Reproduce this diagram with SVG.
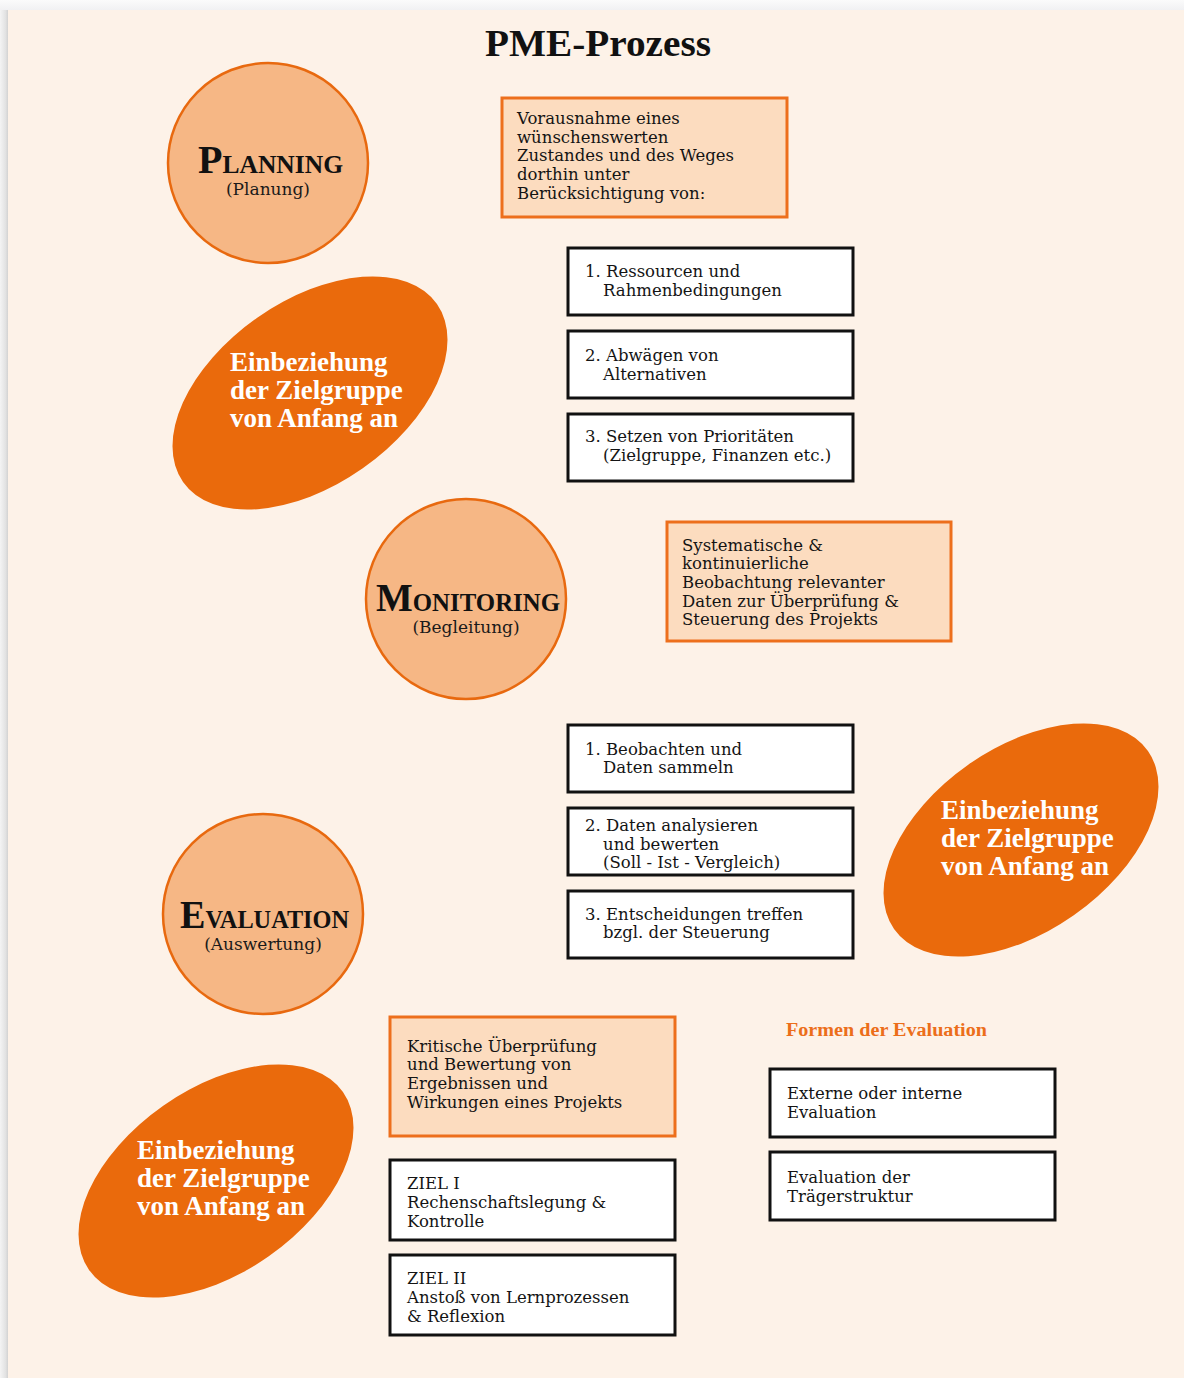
<svg xmlns="http://www.w3.org/2000/svg" width="1184" height="1378" viewBox="0 0 1184 1378">
<defs>
<linearGradient id="shL" x1="0" y1="0" x2="1" y2="0"><stop offset="0" stop-color="#f4f4f4"/><stop offset="0.7" stop-color="#e2e2e2"/><stop offset="1" stop-color="#d2d2d2"/></linearGradient>
<linearGradient id="shT" x1="0" y1="0" x2="0" y2="1"><stop offset="0" stop-color="#fbfbfb"/><stop offset="1" stop-color="#f1f1f3"/></linearGradient>
</defs>
<style>
.bg{fill:#fdf2e8}
.circ{fill:#f6b785;stroke:#e8690f;stroke-width:2.5}
.blob{fill:#ea6a0c}
.lbox{fill:#fcdcbf;stroke:#ed6f1c;stroke-width:3}
.wbox{fill:#ffffff;stroke:#111111;stroke-width:3}
.t{font-family:"DejaVu Serif","Liberation Serif",serif;font-size:16.5px;fill:#141414}
.hd{font-family:"Liberation Serif","DejaVu Serif",serif;font-weight:bold;fill:#111111}
.sub{font-family:"DejaVu Serif","Liberation Serif",serif;font-size:17px;fill:#1a1a1a;text-anchor:middle}
.bt{font-family:"Liberation Serif","DejaVu Serif",serif;font-weight:bold;font-size:27px;fill:#ffffff}
.or{font-family:"Liberation Serif","DejaVu Serif",serif;font-weight:bold;font-size:18.5px;fill:#ec6e1a}
</style>
<rect x="0" y="0" width="1184" height="1378" fill="#f7f7f8"/>
<rect x="0" y="0" width="1184" height="10" fill="url(#shT)"/>
<rect x="0" y="10" width="8" height="1368" fill="url(#shL)"/>
<rect class="bg" x="8" y="10" width="1176" height="1368"/>

<text class="hd" x="598" y="56" font-size="38" text-anchor="middle" textLength="226" lengthAdjust="spacingAndGlyphs">PME-Prozess</text>

<g id="planning">
<circle class="circ" cx="268" cy="163" r="100"/>
<text class="hd" x="198" y="173" textLength="145" lengthAdjust="spacingAndGlyphs"><tspan font-size="40">P</tspan><tspan font-size="25.5">LANNING</tspan></text>
<text class="sub" x="268" y="195">(Planung)</text>
</g>

<g id="planning-desc">
<rect class="lbox" x="502" y="98" width="285" height="119"/>
<text class="t" x="517" y="124">Vorausnahme eines</text>
<text class="t" x="517" y="143">wünschenswerten</text>
<text class="t" x="517" y="161">Zustandes und des Weges</text>
<text class="t" x="517" y="180">dorthin unter</text>
<text class="t" x="517" y="199">Berücksichtigung von:</text>
</g>

<g id="plan-1">
<rect class="wbox" x="568" y="248" width="285" height="67"/>
<text class="t" x="585" y="277">1. Ressourcen und</text>
<text class="t" x="603" y="296">Rahmenbedingungen</text>
</g>
<g id="plan-2">
<rect class="wbox" x="568" y="331" width="285" height="67"/>
<text class="t" x="585" y="361">2. Abwägen von</text>
<text class="t" x="603" y="380">Alternativen</text>
</g>
<g id="plan-3">
<rect class="wbox" x="568" y="414" width="285" height="67"/>
<text class="t" x="585" y="442">3. Setzen von Prioritäten</text>
<text class="t" x="603" y="461">(Zielgruppe, Finanzen etc.)</text>
</g>

<g id="blob-1">
<ellipse class="blob" cx="310" cy="393" rx="155" ry="92" transform="rotate(-35 310 393)"/>
<text class="bt" x="230" y="371">Einbeziehung</text>
<text class="bt" x="230" y="399">der Zielgruppe</text>
<text class="bt" x="230" y="427">von Anfang an</text>
</g>

<g id="monitoring">
<circle class="circ" cx="466" cy="599" r="100"/>
<text class="hd" x="376" y="611" textLength="184" lengthAdjust="spacingAndGlyphs"><tspan font-size="40">M</tspan><tspan font-size="25.5">ONITORING</tspan></text>
<text class="sub" x="466" y="633">(Begleitung)</text>
</g>

<g id="monitoring-desc">
<rect class="lbox" x="667" y="522" width="284" height="119"/>
<text class="t" x="682" y="551">Systematische &amp;</text>
<text class="t" x="682" y="569">kontinuierliche</text>
<text class="t" x="682" y="588">Beobachtung relevanter</text>
<text class="t" x="682" y="607">Daten zur Überprüfung &amp;</text>
<text class="t" x="682" y="625">Steuerung des Projekts</text>
</g>

<g id="mon-1">
<rect class="wbox" x="568" y="725" width="285" height="67"/>
<text class="t" x="585" y="755">1. Beobachten und</text>
<text class="t" x="603" y="773">Daten sammeln</text>
</g>
<g id="mon-2">
<rect class="wbox" x="568" y="808" width="285" height="67"/>
<text class="t" x="585" y="831">2. Daten analysieren</text>
<text class="t" x="603" y="850">und bewerten</text>
<text class="t" x="603" y="868">(Soll - Ist - Vergleich)</text>
</g>
<g id="mon-3">
<rect class="wbox" x="568" y="891" width="285" height="67"/>
<text class="t" x="585" y="920">3. Entscheidungen treffen</text>
<text class="t" x="603" y="938">bzgl. der Steuerung</text>
</g>

<g id="blob-2">
<ellipse class="blob" cx="1021" cy="840" rx="155" ry="92" transform="rotate(-35 1021 840)"/>
<text class="bt" x="941" y="819">Einbeziehung</text>
<text class="bt" x="941" y="847">der Zielgruppe</text>
<text class="bt" x="941" y="875">von Anfang an</text>
</g>

<g id="evaluation">
<circle class="circ" cx="263" cy="914" r="100"/>
<text class="hd" x="180" y="928" textLength="169" lengthAdjust="spacingAndGlyphs"><tspan font-size="40">E</tspan><tspan font-size="25.5">VALUATION</tspan></text>
<text class="sub" x="263" y="950">(Auswertung)</text>
</g>

<g id="evaluation-desc">
<rect class="lbox" x="390" y="1017" width="285" height="119"/>
<text class="t" x="407" y="1052">Kritische Überprüfung</text>
<text class="t" x="407" y="1070">und Bewertung von</text>
<text class="t" x="407" y="1089">Ergebnissen und</text>
<text class="t" x="407" y="1108">Wirkungen eines Projekts</text>
</g>

<g id="blob-3">
<ellipse class="blob" cx="216" cy="1181" rx="155" ry="92" transform="rotate(-35 216 1181)"/>
<text class="bt" x="137" y="1159">Einbeziehung</text>
<text class="bt" x="137" y="1187">der Zielgruppe</text>
<text class="bt" x="137" y="1215">von Anfang an</text>
</g>

<g id="ziel-1">
<rect class="wbox" x="390" y="1160" width="285" height="80"/>
<text class="t" x="407" y="1189">ZIEL I</text>
<text class="t" x="407" y="1208">Rechenschaftslegung &amp;</text>
<text class="t" x="407" y="1227">Kontrolle</text>
</g>
<g id="ziel-2">
<rect class="wbox" x="390" y="1255" width="285" height="80"/>
<text class="t" x="407" y="1284">ZIEL II</text>
<text class="t" x="407" y="1303">Anstoß von Lernprozessen</text>
<text class="t" x="407" y="1322">&amp; Reflexion</text>
</g>

<g id="formen">
<text class="or" x="786" y="1036" textLength="201" lengthAdjust="spacingAndGlyphs">Formen der Evaluation</text>
</g>
<g id="form-1">
<rect class="wbox" x="770" y="1069" width="285" height="68"/>
<text class="t" x="787" y="1099">Externe oder interne</text>
<text class="t" x="787" y="1118">Evaluation</text>
</g>
<g id="form-2">
<rect class="wbox" x="770" y="1152" width="285" height="68"/>
<text class="t" x="787" y="1183">Evaluation der</text>
<text class="t" x="787" y="1202">Trägerstruktur</text>
</g>
<g id="connectors"></g>
</svg>
